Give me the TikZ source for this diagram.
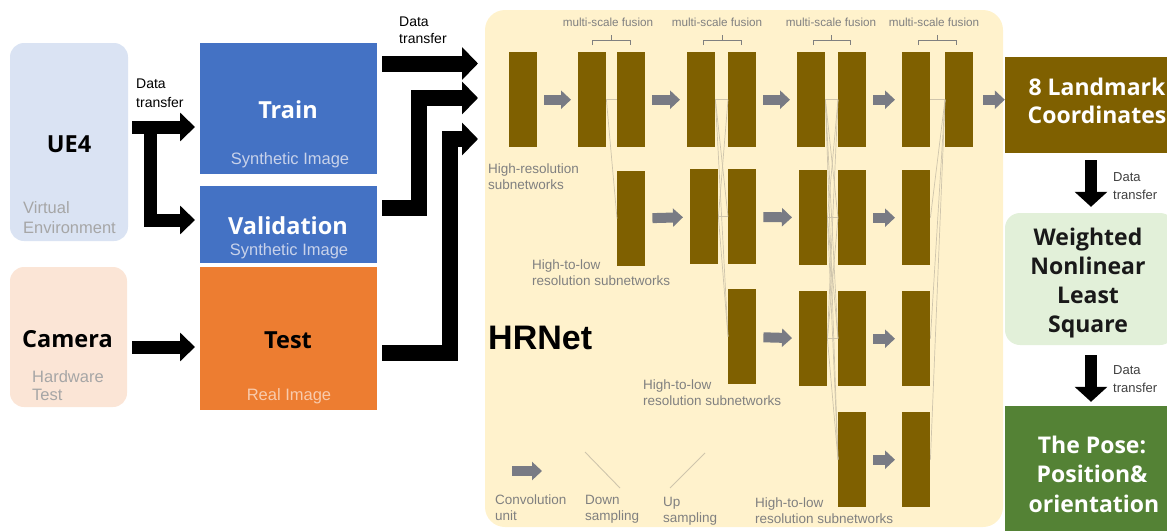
\documentclass[tikz,border=0pt]{standalone}
\usepackage{fontspec}
\setmainfont{Liberation Sans}
\newfontfamily\hd{Open Sans}
\usetikzlibrary{arrows.meta}
\definecolor{ueblue}{HTML}{DAE3F3}
\definecolor{campeach}{HTML}{FBE5D6}
\definecolor{setblue}{HTML}{4472C4}
\definecolor{testorange}{HTML}{ED7D31}
\definecolor{panel}{HTML}{FFF2CC}
\definecolor{brownb}{HTML}{7F6000}
\definecolor{wgreen}{HTML}{E2F0D9}
\definecolor{posegreen}{HTML}{548235}
\definecolor{garr}{HTML}{797B84}
\definecolor{lblgray}{HTML}{808080}
\definecolor{subgray}{HTML}{A6A6A6}
\definecolor{synth}{HTML}{C8D2EA}
\definecolor{realc}{HTML}{F8CBAD}
\definecolor{fusec}{HTML}{CFC5AC}
\begin{document}
\begin{tikzpicture}[x=1pt,y=-1pt,
  box/.style={inner sep=0pt, draw=none},
  blk/.style={fill=brownb, minimum width=28pt, minimum height=95pt, inner sep=0pt, anchor=north west},
  garrow/.style={draw=garr, line width=10pt, -{Triangle[length=10pt,width=18pt]}, shorten <=7pt, shorten >=7pt},
  barrowL/.style={draw=black, line width=13pt, -{Triangle[length=15pt,width=28pt]}, line join=miter},
  barrowR/.style={draw=black, line width=16pt, -{Triangle[length=16pt,width=32pt]}, line join=miter},
  darrow/.style={draw=black, line width=12pt, -{Triangle[length=15pt,width=32pt]}},
  fuse/.style={draw=fusec, line width=0.7pt},
  lbl/.style={inner sep=0pt, anchor=base west, font=\fontsize{13.5}{16}\selectfont, text=lblgray},
  msf/.style={inner sep=0pt, anchor=base, font=\fontsize{11.7}{14}\selectfont, text=lblgray},
  big/.style={inner sep=0pt, anchor=base, font=\hd\bfseries\fontsize{23.5}{28}\selectfont},
  rbig/.style={inner sep=0pt, anchor=base, font=\hd\bfseries\fontsize{23}{28}\selectfont},
  sub/.style={inner sep=0pt, font=\fontsize{16.5}{20}\selectfont},
  dt/.style={inner sep=0pt, anchor=base west, font=\fontsize{14}{17}\selectfont},
  rdt/.style={inner sep=0pt, anchor=base west, font=\fontsize{13}{16}\selectfont, text=black!75}
]
\useasboundingbox (0,0) rectangle (1167,530);

% ---------- left boxes ----------
\node[box, fill=ueblue, rounded corners=14pt, minimum width=118pt, minimum height=198pt] (ue4) at (69,142) {};
\node[box, fill=campeach, rounded corners=14pt, minimum width=117pt, minimum height=140pt] (cam) at (68.5,337) {};
\node[box, fill=setblue, minimum width=177pt, minimum height=131pt] (train) at (288.5,108.5) {};
\node[box, fill=setblue, minimum width=177pt, minimum height=77pt] (val) at (288.5,224.5) {};
\node[box, fill=testorange, minimum width=177pt, minimum height=143pt] (test) at (288.5,338.5) {};

\node[big] (tue4) at (69,152) {UE4};
\node[sub, anchor=base west, text=subgray] (tv1) at (23,213) {Virtual};
\node[sub, anchor=base west, text=subgray] (tv2) at (23,233) {Environment};
\node[big] (tcam) at (67.5,347) {Camera};
\node[sub, anchor=base west, text=subgray] (th1) at (32,382) {Hardware};
\node[sub, anchor=base west, text=subgray] (th2) at (32,400) {Test};
\node[big, text=white] (ttrain) at (288,118) {Train};
\node[sub, anchor=base, text=synth] (ts1) at (290,164) {Synthetic Image};
\node[big, text=white] (tval) at (288,234) {Validation};
\node[sub, anchor=base, text=synth] (ts2) at (289,255) {Synthetic Image};
\node[big] (ttest) at (288,348) {Test};
\node[sub, anchor=base, text=realc] (tr) at (289,400) {Real Image};

\node[dt] (dl1) at (136,88) {Data};
\node[dt] (dl2) at (136,107) {transfer};
\node[dt] (dtp1) at (399,27) {Data};
\node[dt] (dtp2) at (399,43) {transfer};

% left arrows
\coordinate (tin) at (195,127);
\coordinate (br) at (150,127);
\coordinate (vin) at (195,220);
\coordinate (cin) at (195,347);
\draw[barrowL] ([xshift=4pt,yshift=15pt]ue4.east) -- (tin);
\draw[barrowL] (br) |- (vin);
\draw[barrowL] ([xshift=5pt,yshift=-10pt]cam.east) -- (cin);

% ---------- HRNet panel ----------
\node[box, fill=panel, rounded corners=20pt, minimum width=518pt, minimum height=517pt] (hr) at (744,268.5) {};

\coordinate (in1) at (478,63.5);
\coordinate (in2) at (478,98);
\coordinate (in3) at (478,139);
\draw[barrowR, shorten <=5pt] (train.east |- in1) -- (in1);
\draw[barrowR, shorten <=5pt] ([yshift=17pt]val.east) -| ([xshift=-59pt]in2) -- (in2);
\draw[barrowR, shorten <=5pt] ([yshift=-14.5pt]test.east) -| ([xshift=-28pt]in3) -- (in3);

% blocks
\node[blk] (b11) at (509,52) {};
\node[blk] (b12) at (578,52) {};
\node[blk] (b13) at (617,52) {};
\node[blk] (b14) at (687,52) {};
\node[blk] (b15) at (728,52) {};
\node[blk] (b16) at (797,52) {};
\node[blk] (b17) at (838,52) {};
\node[blk] (b18) at (902,52) {};
\node[blk] (b19) at (945,52) {};
\node[blk] (b23) at (617,171) {};
\node[blk] (b24) at (690,169) {};
\node[blk] (b25) at (728,169) {};
\node[blk] (b26) at (799,170) {};
\node[blk] (b27) at (838,170) {};
\node[blk] (b28) at (902,170) {};
\node[blk] (b35) at (728,289) {};
\node[blk] (b36) at (799,291) {};
\node[blk] (b37) at (838,291) {};
\node[blk] (b38) at (902,291) {};
\node[blk] (b47) at (838,412) {};
\node[blk] (b48) at (902,412) {};

% fusion lines
\draw[fuse] (b12.east) -- (b13.west);
\draw[fuse] (b12.east) -- (b23.west);
\foreach \a in {b14,b24}{\foreach \b in {b15,b25,b35}{\draw[fuse] (\a.east) -- (\b.west);}}
\foreach \a in {b16,b26,b36}{\foreach \b in {b17,b27,b37,b47}{\draw[fuse] (\a.east) -- (\b.west);}}
\foreach \a in {b18,b28,b38,b48}{\draw[fuse] (\a.east) -- (b19.west);}

% gray arrows
\draw[garrow] (b11) -- (b12);
\draw[garrow] (b13) -- (b14);
\draw[garrow] (b15) -- (b16);
\draw[garrow] (b17) -- (b18);
\draw[garrow] (b23) -- (b24);
\draw[garrow] (b25) -- (b26);
\draw[garrow] (b27) -- (b28);
\draw[garrow] (b35) -- (b36);
\draw[garrow] (b37) -- (b38);
\draw[garrow] (b47) -- (b48);

% brackets and multi-scale labels
\foreach \l/\c/\r in {592/611/630, 703/722/741, 813/831.5/850, 918/937/956}{
  \draw[draw=lblgray, line width=0.8pt] (\l,45) -- (\l,40) -- (\r,40) -- (\r,45) (\c,40) -- (\c,35);
}
\node[msf] (m1) at (608,27) {multi-scale fusion};
\node[msf] (m2) at (717,27) {multi-scale fusion};
\node[msf] (m3) at (831,27) {multi-scale fusion};
\node[msf] (m4) at (934,27) {multi-scale fusion};

% panel labels
\node[lbl] (hr1) at (488,173) {High-resolution};
\node[lbl] (hr2) at (488,189) {subnetworks};
\node[lbl] (hl1) at (532,269) {High-to-low};
\node[lbl] (hl2) at (532,285) {resolution subnetworks};
\node[lbl] (hm1) at (643,389) {High-to-low};
\node[lbl] (hm2) at (643,405) {resolution subnetworks};
\node[lbl] (hn1) at (755,507) {High-to-low};
\node[lbl] (hn2) at (755,523) {resolution subnetworks};
\node[inner sep=0pt, anchor=base west, font=\bfseries\fontsize{34}{40}\selectfont] (hrt) at (488,349) {HRNet};

% legend
\coordinate (lg1) at (512,471);
\coordinate (lg2) at (542,471);
\draw[garrow, shorten <=0pt, shorten >=0pt] (lg1) -- (lg2);
\draw[fuse, line width=0.9pt] (585,452) -- (620,488);
\draw[fuse, line width=0.9pt] (670,488) -- (705,453);
\node[lbl] (lc1) at (495,504) {Convolution};
\node[lbl] (lc2) at (495,520) {unit};
\node[lbl] (ld1) at (585,504) {Down};
\node[lbl] (ld2) at (585,520) {sampling};
\node[lbl] (lu1) at (663,506) {Up};
\node[lbl] (lu2) at (663,522) {sampling};

% ---------- right column ----------
\node[box, fill=brownb, minimum width=180pt, minimum height=96pt] (land) at (1095,105) {};
\node[box, fill=wgreen, rounded corners=15pt, minimum width=170pt, minimum height=132pt] (wnl) at (1090,279) {};
\node[box, fill=posegreen, minimum width=180pt, minimum height=128pt] (pose) at (1095,470) {};

\draw[garrow, shorten <=10pt, shorten >=0pt] (b19) -- (land.west |- b19);

\node[rbig, text=white] (tl1) at (1097,95) {8 Landmark};
\node[rbig, text=white] (tl2) at (1097,123) {Coordinates};
\node[rbig, text=black!90] (tw1) at (1088,245) {Weighted};
\node[rbig, text=black!90] (tw2) at (1088,274) {Nonlinear};
\node[rbig, text=black!90] (tw3) at (1088,303) {Least};
\node[rbig, text=black!90] (tw4) at (1088,332) {Square};
\node[rbig, text=white] (tp1) at (1092,453) {The Pose:};
\node[rbig, text=white] (tp2) at (1092,482) {Position\&};
\node[rbig, text=white] (tp3) at (1094,512) {orientation};

\coordinate (ax) at (1091,0);
\draw[darrow, shorten <=7pt, shorten >=6pt] (land.south -| ax) -- (wnl.north -| ax);
\draw[darrow, shorten <=10pt, shorten >=4pt] (wnl.south -| ax) -- (pose.north -| ax);
\node[rdt] (rd1) at (1113,181) {Data};
\node[rdt] (rd2) at (1113,199) {transfer};
\node[rdt] (rd3) at (1113,374) {Data};
\node[rdt] (rd4) at (1113,392) {transfer};
\end{tikzpicture}
\end{document}
